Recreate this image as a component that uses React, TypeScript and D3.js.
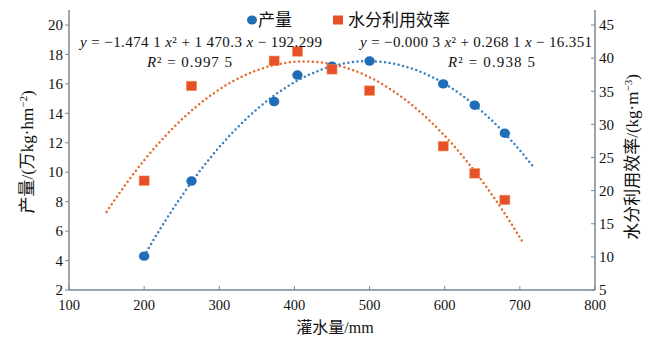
import React from "react";
import * as d3 from "d3";

const irrigation = [200, 263, 373, 404, 450, 500, 598, 640, 680];
const yieldValues = [4.3, 9.4, 14.8, 16.6, 17.2, 17.55, 16.0, 14.55, 12.65];
const wueValues = [21.5, 35.8, 39.6, 41.0, 38.3, 35.1, 26.7, 22.6, 18.6];
const xTicks = [100, 200, 300, 400, 500, 600, 700, 800];
const leftTicks = [2, 4, 6, 8, 10, 12, 14, 16, 18, 20];
const rightTicks = [5, 10, 15, 20, 25, 30, 35, 40, 45];
const yieldFitRange = [200, 720];
const wueFitRange = [150, 705];
const seriesNames = ["产量", "水分利用效率"];
const equations = [
  "y = \u22121.474 1 x² + 1 470.3 x \u2212 192.299",
  "y = \u22120.000 3 x² + 0.268 1 x \u2212 16.351",
];
const r2Values = ["0.997 5", "0.938 5"];

function quadFit(xs: number[], ys: number[]) {
  const m = d3.mean(xs)!;
  const u = xs.map((x) => (x - m) / 100);
  let s0 = u.length, s1 = 0, s2 = 0, s3 = 0, s4 = 0, t0 = 0, t1 = 0, t2 = 0;
  u.forEach((v, i) => {
    s1 += v; s2 += v * v; s3 += v ** 3; s4 += v ** 4;
    t0 += ys[i]; t1 += v * ys[i]; t2 += v * v * ys[i];
  });
  const A = [[s0, s1, s2], [s1, s2, s3], [s2, s3, s4]];
  const B = [t0, t1, t2];
  const det = (M: number[][]) =>
    M[0][0] * (M[1][1] * M[2][2] - M[1][2] * M[2][1]) -
    M[0][1] * (M[1][0] * M[2][2] - M[1][2] * M[2][0]) +
    M[0][2] * (M[1][0] * M[2][1] - M[1][1] * M[2][0]);
  const D = det(A);
  const coef = [0, 1, 2].map((k) => {
    const M = A.map((row, i) => row.map((v, j) => (j === k ? B[i] : v)));
    return det(M) / D;
  });
  return (x: number) => {
    const v = (x - m) / 100;
    return coef[0] + coef[1] * v + coef[2] * v * v;
  };
}

const BLUE = "#1f6db4";
const BLUE_LINE = "#3a7fc1";
const RED = "#e8502a";
const RED_LINE = "#e5692c";
const AXIS = "#7b8893";
const SERIF = "'Liberation Serif', 'Times New Roman', serif";
const CJK = "'Noto Sans CJK SC', sans-serif";

function Equation({ text, x, y, width }: { text: string; x: number; y: number; width: number }) {
  return (
    <text
      x={x}
      y={y}
      fontFamily={SERIF}
      fontSize={15}
      fill="#111"
      textLength={width}
      lengthAdjust="spacing"
    >
      {text.split(/([xyR])/).map((p, i) =>
        p === "x" || p === "y" || p === "R" ? (
          <tspan key={i} fontStyle="italic">{p}</tspan>
        ) : (
          <tspan key={i}>{p}</tspan>
        )
      )}
    </text>
  );
}

export default function App() {
  const x = d3.scaleLinear().domain([100, 800]).range([69, 595]);
  const yL = d3.scaleLinear().domain([2, 20]).range([290, 25]);
  const yR = d3.scaleLinear().domain([5, 45]).range([290, 25]);
  const top = 10;
  const bottom = 290;

  const fitY = quadFit(irrigation, yieldValues);
  const fitW = quadFit(irrigation, wueValues);
  const line = (f: (v: number) => number, ys: d3.ScaleLinear<number, number>, r: number[]) =>
    d3
      .line<number>()
      .x((d) => x(d))
      .y((d) => ys(f(d)))(d3.range(r[0], r[1] + 0.5, 2))!;

  return (
    <svg
      width={650}
      height={340}
      style={{ position: "absolute", left: 0, top: 0, background: "#fff" }}
    >
      <line x1={69} x2={69} y1={top} y2={bottom} stroke={AXIS} strokeWidth={1.5} />
      <line x1={595} x2={595} y1={top} y2={bottom} stroke={AXIS} strokeWidth={1.5} />
      <line x1={69} x2={595} y1={bottom} y2={bottom} stroke={AXIS} strokeWidth={1.5} />

      {xTicks.map((t) => (
        <g key={"x" + t}>
          <line x1={x(t)} x2={x(t)} y1={bottom} y2={bottom - 4} stroke={AXIS} strokeWidth={1} />
          <text x={x(t)} y={310} textAnchor="middle" fontFamily={SERIF} fontSize={14.5} fill="#111">
            {t}
          </text>
        </g>
      ))}
      {leftTicks.map((t) => (
        <g key={"l" + t}>
          <line x1={65} x2={69} y1={yL(t)} y2={yL(t)} stroke={AXIS} strokeWidth={1} />
          <text x={63} y={yL(t)} dy="0.35em" textAnchor="end" fontFamily={SERIF} fontSize={15} fill="#111">
            {t}
          </text>
        </g>
      ))}
      {rightTicks.map((t) => (
        <g key={"r" + t}>
          <line x1={591} x2={595} y1={yR(t)} y2={yR(t)} stroke={AXIS} strokeWidth={1} />
          <text x={599} y={yR(t)} dy="0.35em" textAnchor="start" fontFamily={SERIF} fontSize={15} fill="#111">
            {t}
          </text>
        </g>
      ))}

      <text x={335} y={333} textAnchor="middle" fontSize={16} fill="#111">
        <tspan fontFamily={CJK}>灌水量</tspan>
        <tspan fontFamily={SERIF}>/mm</tspan>
      </text>
      <text transform="translate(33,152) rotate(-90)" textAnchor="middle" fontSize={17} fill="#111">
        <tspan fontFamily={CJK}>产量</tspan>
        <tspan fontFamily={SERIF}>/(</tspan>
        <tspan fontFamily={CJK}>万</tspan>
        <tspan fontFamily={SERIF}>kg·hm</tspan>
        <tspan fontFamily={SERIF} fontSize={11} dy={-6}>−2</tspan>
        <tspan fontFamily={SERIF} dy={6}>)</tspan>
      </text>
      <text transform="translate(638,157) rotate(-90)" textAnchor="middle" fontSize={17} fill="#111">
        <tspan fontFamily={CJK}>水分利用效率</tspan>
        <tspan fontFamily={SERIF}>/(kg·m</tspan>
        <tspan fontFamily={SERIF} fontSize={11} dy={-6}>−3</tspan>
        <tspan fontFamily={SERIF} dy={6}>)</tspan>
      </text>

      <path
        d={line(fitY, yL, yieldFitRange)}
        fill="none"
        stroke={BLUE_LINE}
        strokeWidth={2.5}
        strokeDasharray="0 4.6"
        strokeLinecap="round"
      />
      <path
        d={line(fitW, yR, wueFitRange)}
        fill="none"
        stroke={RED_LINE}
        strokeWidth={2.5}
        strokeDasharray="0 4.6"
        strokeLinecap="round"
      />

      {irrigation.map((d, i) => (
        <ellipse key={"c" + i} cx={x(d)} cy={yL(yieldValues[i])} rx={5.2} ry={4.7} fill={BLUE} />
      ))}
      {irrigation.map((d, i) => (
        <rect
          key={"s" + i}
          x={x(d) - 5}
          y={yR(wueValues[i]) - 4.7}
          width={10}
          height={9.4}
          fill={RED}
          stroke="#f08a4b"
          strokeWidth={0.6}
        />
      ))}

      <ellipse cx={252} cy={20} rx={5} ry={4.5} fill={BLUE} />
      <text x={258} y={26} fontFamily={CJK} fontSize={17} fill="#111">
        {seriesNames[0]}
      </text>
      <rect x={333} y={15.5} width={10} height={9} fill={RED} />
      <text x={348} y={26} fontFamily={CJK} fontSize={17} fill="#111">
        {seriesNames[1]}
      </text>

      <Equation text={equations[0]} x={80} y={47} width={242} />
      <Equation text={"R² = " + r2Values[0]} x={147} y={67} width={85} />
      <Equation text={equations[1]} x={360} y={47} width={232} />
      <Equation text={"R² = " + r2Values[1]} x={448} y={67} width={87} />
    </svg>
  );
}
